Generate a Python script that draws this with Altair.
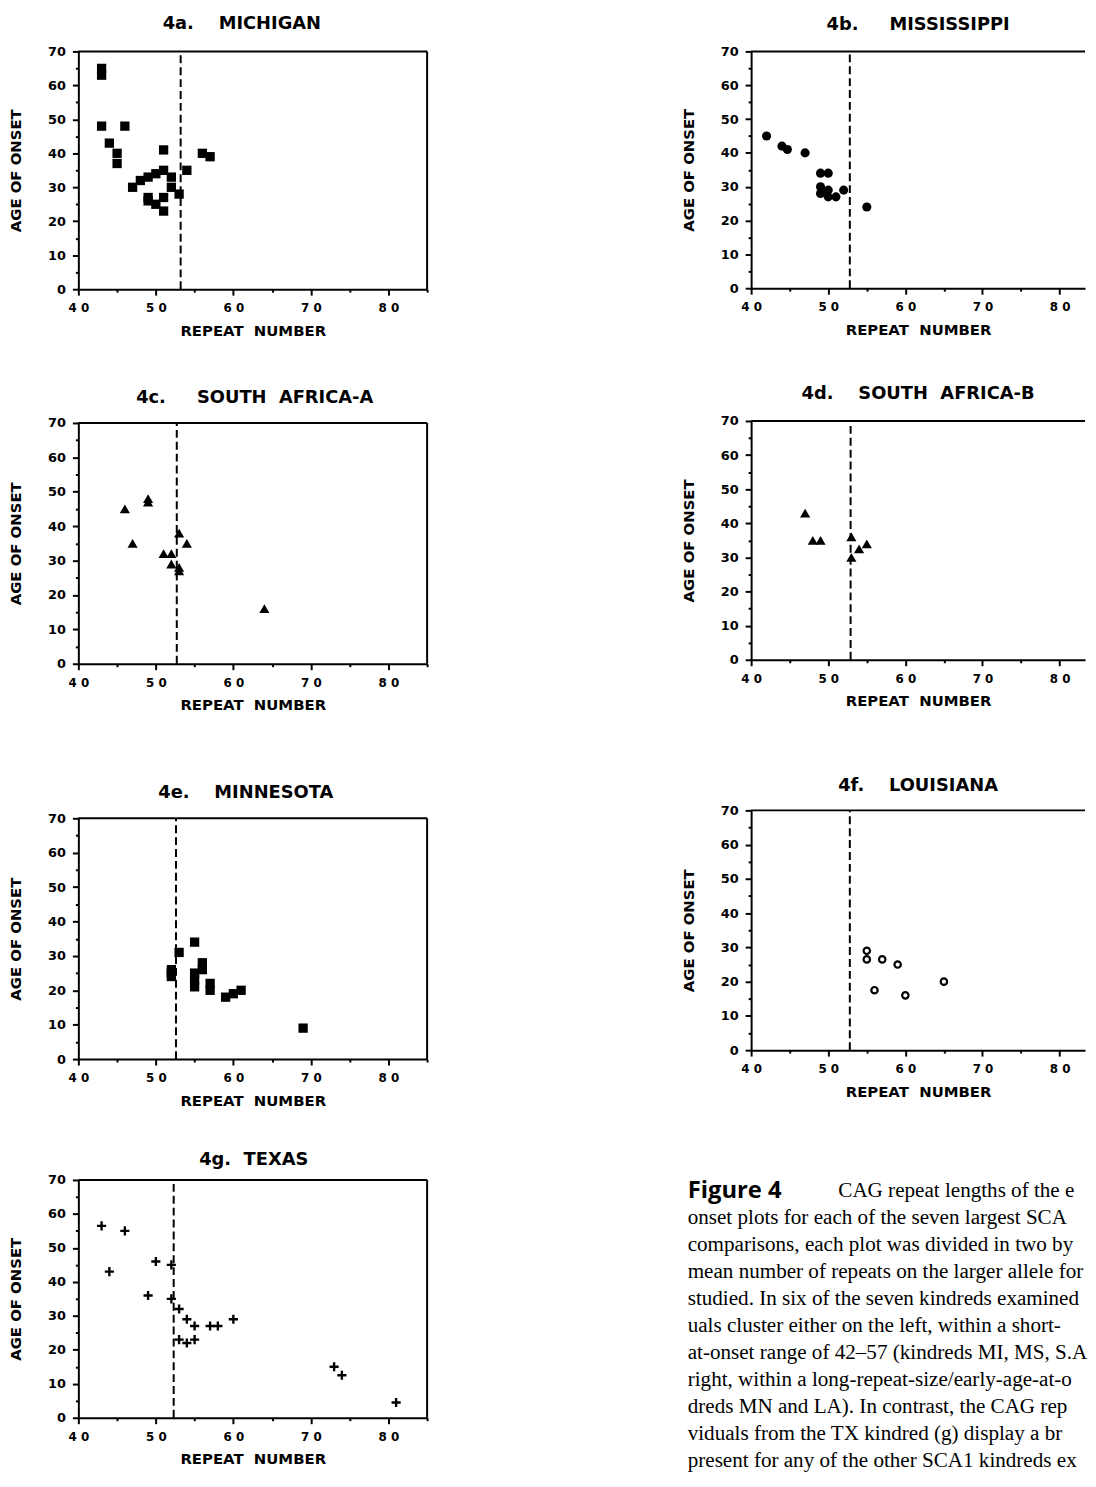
import altair as alt
import pandas as pd

FONT = "DejaVu Sans"
SERIF = "Liberation Serif"
CAP_SANS = "Open Sans"
NB = "\u00a0"

# ---------------- data ----------------
mi_repeat = [43, 43, 43, 46, 44, 45, 45, 47, 48, 49, 50, 51, 51, 52, 52, 53, 54, 56, 57, 49, 49, 50, 51, 51]
mi_onset = [65, 63, 48, 48, 43, 40, 37, 30, 32, 33, 34, 35, 41, 33, 30, 28, 35, 40, 39, 27, 26, 25, 27, 23]

ms_repeat = [42, 44, 44.7, 47, 49, 50, 49, 49, 50, 50, 51, 52, 55]
ms_onset = [45, 42, 41, 40, 34, 34, 30, 28, 29, 27, 27, 29, 24]

saa_repeat = [46, 49, 49, 47, 51, 52, 52, 53, 53, 53, 54, 64]
saa_onset = [45, 48, 47, 35, 32, 32, 29, 38, 28, 27, 35, 16]

sab_repeat = [47, 48, 49, 53, 53, 54, 55]
sab_onset = [43, 35, 35, 36, 30, 32.5, 34]

mn_repeat = [52, 52, 52, 53, 55, 55, 55, 55, 56, 56, 57, 57, 59, 60, 61, 69]
mn_onset = [26, 25, 24, 31, 34, 25, 23, 21, 28, 26, 22, 20, 18, 19, 20, 9]

la_repeat = [55, 55, 57, 59, 56, 60, 65]
la_onset = [29, 26.5, 26.5, 25, 17.5, 16, 20]

tx_repeat = [43, 46, 44, 50, 49, 52, 52, 53, 54, 55, 57, 58, 60, 53, 54, 55, 73, 74, 81]
tx_onset = [56.5, 55, 43, 46, 36, 45, 35, 32, 29, 27, 27, 27, 29, 23, 22, 23, 15, 12.5, 4.5]

# dashed line (mean repeat number) per panel: a, b, c, d, e, f, g
mean_repeat = [53.2, 52.8, 52.7, 52.9, 52.6, 52.8, 52.3]

panel_titles = [
    "4a." + NB * 4 + "MICHIGAN",
    "4b." + NB * 5 + "MISSISSIPPI",
    "4c." + NB * 5 + "SOUTH" + NB * 2 + "AFRICA-A",
    "4d." + NB * 4 + "SOUTH" + NB * 2 + "AFRICA-B",
    "4e." + NB * 4 + "MINNESOTA",
    "4f." + NB * 4 + "LOUISIANA",
    "4g." + NB * 2 + "TEXAS",
]

x_domain_left = [40, 85]
x_domain_right = [40, 83.3]   # right-hand panels are cut by the page edge
y_domain = [0, 70]
x_ticks_left = [40, 45, 50, 55, 60, 65, 70, 75, 80, 85]
x_ticks_right = [40, 45, 50, 55, 60, 65, 70, 75, 80]
x_label_values = [40, 50, 60, 70, 80]
x_label_text = ["4 0", "5 0", "6 0", "7 0", "8 0"]
y_ticks = [0, 5, 10, 15, 20, 25, 30, 35, 40, 45, 50, 55, 60, 65, 70]
x_title = "REPEAT" + NB * 2 + "NUMBER"
y_title = "AGE OF ONSET"

caption_figure = "Figure 4"
caption_lines = [
    "CAG repeat lengths of the e",
    "onset plots for each of the seven largest SCA",
    "comparisons, each plot was divided in two by",
    "mean number of repeats on the larger allele for",
    "studied. In six of the seven kindreds examined",
    "uals cluster either on the left, within a short-",
    "at-onset range of 42\u201357 (kindreds MI, MS, S.A",
    "right, within a long-repeat-size/early-age-at-o",
    "dreds MN and LA). In contrast, the CAG rep",
    "viduals from the TX kindred (g) display a br",
    "present for any of the other SCA1 kindreds ex",
]

# ---------------- helpers ----------------
def build_x_label_expr():
    expr = "''"
    for v, t in reversed(list(zip(x_label_values, x_label_text))):
        expr = f"datum.value == {v} ? '{t}' : ({expr})"
    return expr

X_EXPR = build_x_label_expr()
TICK_SIZE = {"condition": {"test": "datum.value % 10 == 0", "value": 6}, "value": 3}

MARKS = {
    "square": dict(shape="square", filled=True, size=88),
    "circle": dict(shape="circle", filled=True, size=85),
    "triangle": dict(shape="triangle-up", filled=True, size=105),
    "open": dict(shape="circle", filled=False, size=42, strokeWidth=2.2),
    "cross": dict(shape="M-1,0L1,0M0,-1L0,1", filled=False, size=85, strokeWidth=2.4),
}


def panel(title, xs, ys, mean, mark, right_col, height, t_offset, t_dx):
    xdom = x_domain_right if right_col else x_domain_left
    width = 337 if right_col else 352
    xt = x_ticks_right if right_col else x_ticks_left
    xsc = alt.Scale(domain=xdom, nice=False, zero=False)
    ysc = alt.Scale(domain=y_domain, nice=False, zero=False)
    x_axis = alt.Axis(
        values=xt, labelExpr=X_EXPR, tickSize=TICK_SIZE, labelPadding=8,
        labelFontSize=12, labelFlush=False, labelOverlap=False,
        title=x_title, titleFontSize=15, titlePadding=9.5,
    )
    y_axis = alt.Axis(
        values=y_ticks, labelExpr="datum.value % 10 == 0 ? datum.label : ''",
        tickSize=TICK_SIZE, labelPadding=7, labelFontSize=13,
        labelFlush=False, labelOverlap=False,
        title=y_title, titleFontSize=15, titlePadding=24,
    )

    def X(field):
        return alt.X(field, scale=xsc, axis=x_axis)

    def Y(field):
        return alt.Y(field, scale=ysc, axis=y_axis)

    df = pd.DataFrame({"repeat": xs, "onset": ys})
    layers = [
        alt.Chart(df).mark_point(color="black", opacity=1, **MARKS[mark]).encode(
            x=X("repeat:Q"), y=Y("onset:Q")
        )
    ]
    # top frame line
    top_df = pd.DataFrame({"repeat": [xdom[0]], "repeat_end": [xdom[1]], "onset": [y_domain[1]]})
    layers.append(
        alt.Chart(top_df).mark_rule(color="black", strokeWidth=2).encode(
            x=X("repeat:Q"), x2="repeat_end:Q", y=Y("onset:Q")
        )
    )
    if not right_col:
        right_df = pd.DataFrame({"repeat": [xdom[1]], "onset": [y_domain[0]], "onset_end": [y_domain[1]]})
        layers.append(
            alt.Chart(right_df).mark_rule(color="black", strokeWidth=2).encode(
                x=X("repeat:Q"), y=Y("onset:Q"), y2="onset_end:Q"
            )
        )
    dash_df = pd.DataFrame({"repeat": [mean], "onset": [y_domain[0]], "onset_end": [y_domain[1]]})
    layers.append(
        alt.Chart(dash_df).mark_rule(color="black", strokeWidth=2, strokeDash=[8, 4]).encode(
            x=X("repeat:Q"), y=Y("onset:Q"), y2="onset_end:Q"
        )
    )
    return alt.layer(*layers).properties(
        width=width,
        height=height,
        title=alt.TitleParams(
            title, offset=t_offset, dx=t_dx, baseline="alphabetic", anchor="middle",
            font=FONT, fontSize=18, fontWeight="bold", color="black",
        ),
    )


pA = panel(panel_titles[0], mi_repeat, mi_onset, mean_repeat[0], "square", False, 240, -1, -11)
pB = panel(panel_titles[1], ms_repeat, ms_onset, mean_repeat[1], "circle", True, 239, -2, 0)
pC = panel(panel_titles[2], saa_repeat, saa_onset, mean_repeat[2], "triangle", False, 243, -4, 2)
pD = panel(panel_titles[3], sab_repeat, sab_onset, mean_repeat[3], "triangle", True, 241, -2, 0)
pE = panel(panel_titles[4], mn_repeat, mn_onset, mean_repeat[4], "square", False, 243, -4, -7)
pF = panel(panel_titles[5], la_repeat, la_onset, mean_repeat[5], "open", True, 242, -4, 0)
pG = panel(panel_titles[6], tx_repeat, tx_onset, mean_repeat[6], "cross", False, 240, -9, 1)

# ---------------- caption ----------------
cap_df = pd.DataFrame({"line": list(range(len(caption_lines))), "text": caption_lines})
fig_df = pd.DataFrame({"line": [0], "text": [caption_figure]})
line_y = alt.Y("line:O", axis=None,
               scale=alt.Scale(domain=list(range(len(caption_lines))), padding=0.35))
CAP_DX = -64
cap_first = alt.Chart(cap_df).transform_filter("datum.line == 0").mark_text(
    align="left", baseline="middle", font=SERIF, fontSize=21.3, color="black", dx=CAP_DX + 152
).encode(x=alt.value(0), y=line_y, text="text:N")
cap_rest = alt.Chart(cap_df).transform_filter("datum.line > 0").mark_text(
    align="left", baseline="middle", font=SERIF, fontSize=21.3, color="black", dx=CAP_DX
).encode(x=alt.value(0), y=line_y, text="text:N")
cap_fig = alt.Chart(fig_df).mark_text(
    align="left", baseline="middle", font=CAP_SANS, fontSize=24, fontWeight="bold",
    color="black", dx=CAP_DX
).encode(x=alt.value(0), y=line_y, text="text:N")
caption = alt.layer(cap_fig, cap_first, cap_rest).properties(width=300, height=291)

# ---------------- layout ----------------
left_col = alt.vconcat(
    pA, alt.vconcat(pC, alt.vconcat(pE, pG, spacing=43), spacing=72), spacing=51
)
right_col = alt.vconcat(
    pB, alt.vconcat(pD, alt.vconcat(pF, caption, spacing=80), spacing=68), spacing=48
)
chart = (
    alt.hconcat(left_col, right_col, spacing=255)
    .properties(padding={"left": 0, "top": 0, "right": 0, "bottom": 0})
    .configure_view(stroke=None)
    .configure_axis(
        grid=False, domainColor="black", domainWidth=2, tickColor="black", tickWidth=2,
        labelColor="black", titleColor="black", labelFont=FONT, titleFont=FONT,
        labelFontWeight="bold", titleFontWeight="bold",
    )
)

chart.save("out.html", embed_options={"renderer": "svg", "actions": False})
